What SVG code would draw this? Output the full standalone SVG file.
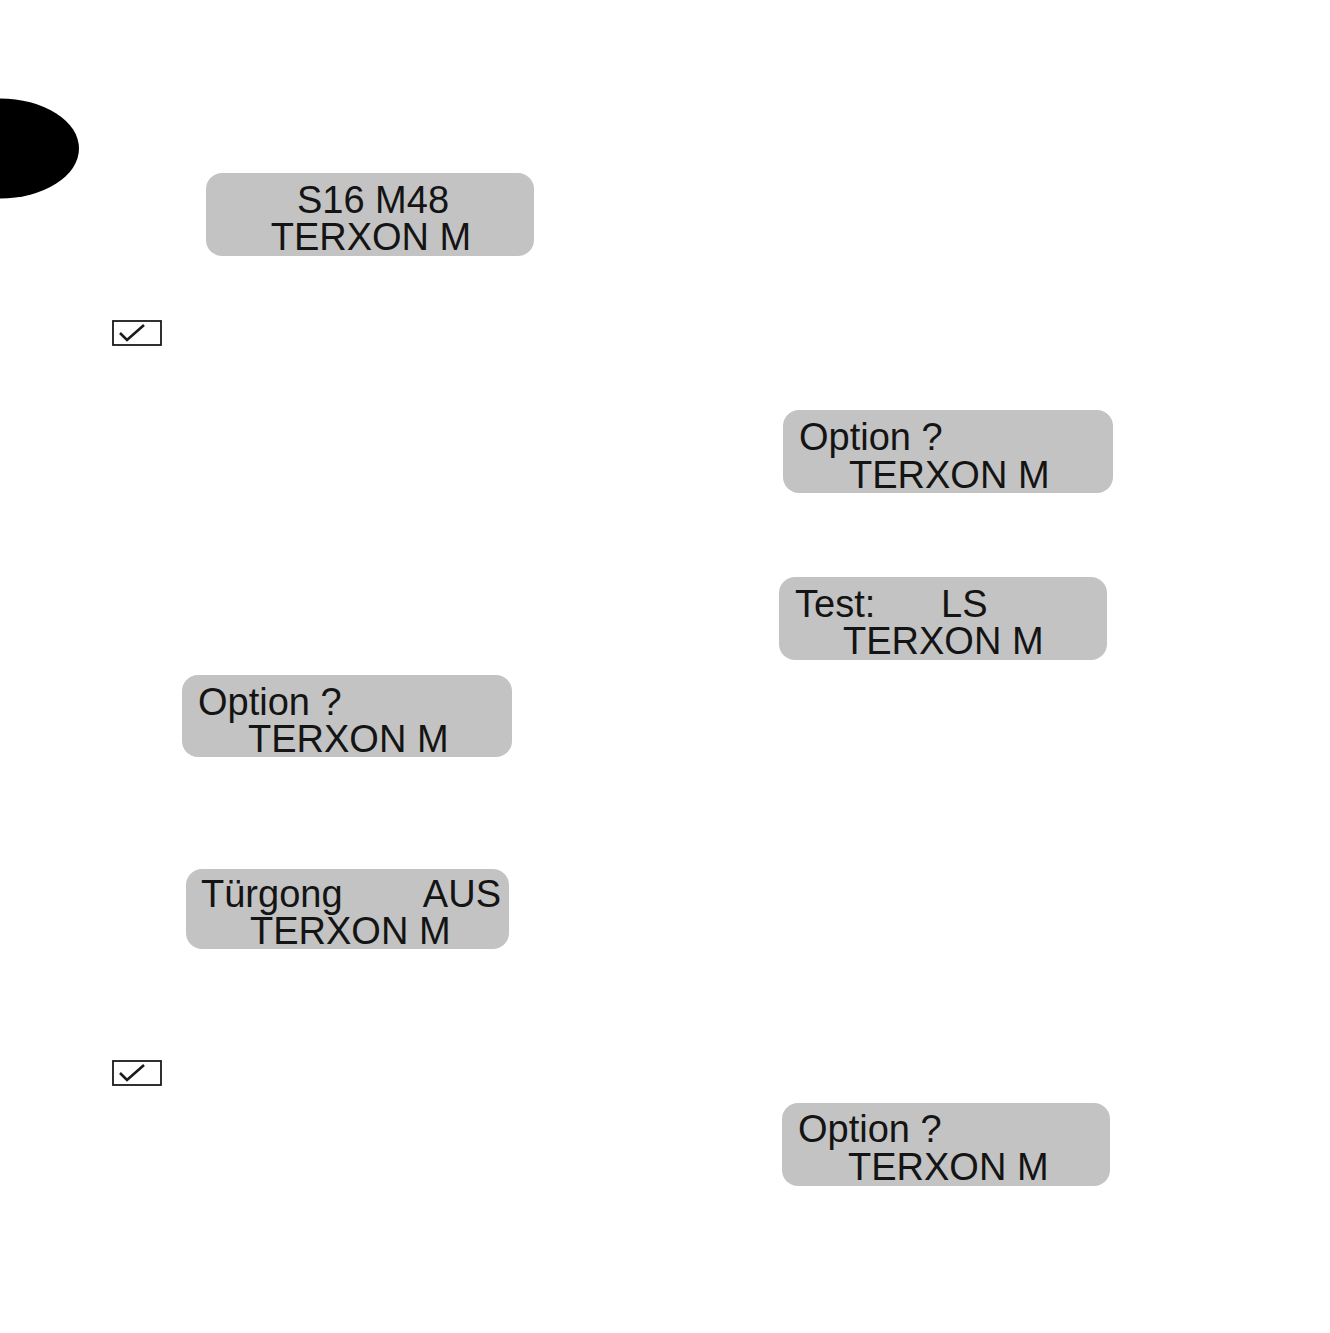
<svg xmlns="http://www.w3.org/2000/svg" width="1330" height="1333" viewBox="0 0 1330 1333">
<style>
.lcd{fill:#c3c3c3;}
.t{font-family:"Liberation Sans",Arial,sans-serif;font-size:38px;fill:#141414;}
.cb{fill:#fff;stroke:#1a1a1a;stroke-width:1.8;}
.ck{fill:none;stroke:#1a1a1a;stroke-width:2.6;}
</style>
<rect width="1330" height="1333" fill="#fff"/>
<ellipse id="tab" cx="0" cy="148.5" rx="79" ry="50" fill="#000"/>
<g id="lcd1"><rect class="lcd" x="206" y="173" width="328" height="83" rx="16"/>
<text class="t" x="373" y="213" text-anchor="middle">S16 M48</text>
<text class="t" x="371" y="250" text-anchor="middle">TERXON M</text></g>
<g id="check1"><rect class="cb" x="113" y="321" width="48" height="24"/><path class="ck" d="M120 333 L127 340 L144 325"/></g>
<g id="lcd2"><rect class="lcd" x="783" y="410" width="330" height="83" rx="16"/>
<text class="t" x="799" y="450">Option ?</text>
<text class="t" x="849" y="488">TERXON M</text></g>
<g id="lcd3"><rect class="lcd" x="779" y="577" width="328" height="83" rx="16"/>
<text class="t" x="795" y="617">Test:</text>
<text class="t" x="941" y="617">LS</text>
<text class="t" x="843" y="654">TERXON M</text></g>
<g id="lcd4"><rect class="lcd" x="182" y="675" width="330" height="82" rx="16"/>
<text class="t" x="198" y="715">Option ?</text>
<text class="t" x="248" y="752">TERXON M</text></g>
<g id="lcd5"><rect class="lcd" x="186" y="869" width="323" height="80" rx="16"/>
<text class="t" x="201" y="907">Türgong</text>
<text class="t" x="501" y="907" text-anchor="end">AUS</text>
<text class="t" x="250" y="944">TERXON M</text></g>
<g id="check2"><rect class="cb" x="113" y="1061" width="48" height="24"/><path class="ck" d="M120 1073 L127 1080 L144 1065"/></g>
<g id="lcd6"><rect class="lcd" x="782" y="1103" width="328" height="83" rx="16"/>
<text class="t" x="798" y="1142">Option ?</text>
<text class="t" x="848" y="1180">TERXON M</text></g>
<g id="connectors"></g>
</svg>
